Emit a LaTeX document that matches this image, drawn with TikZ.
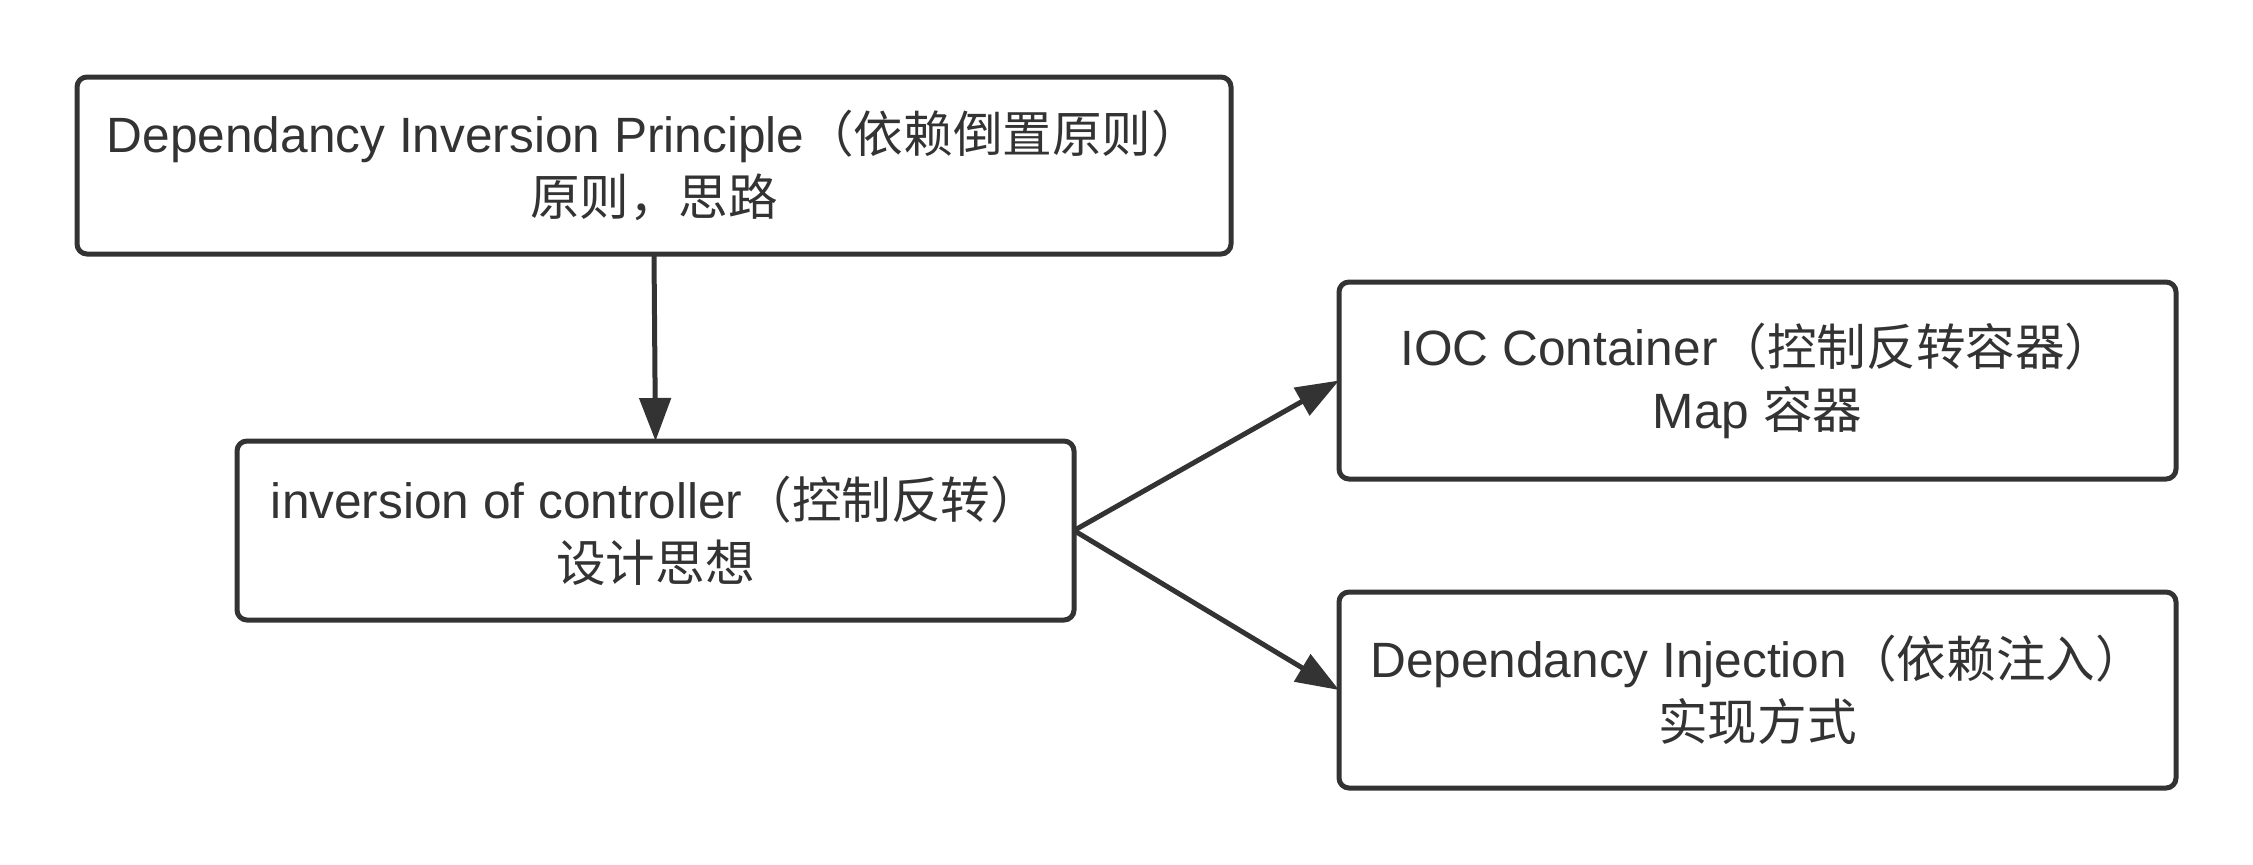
\documentclass[tikz,border=0pt]{standalone}
\usepackage{fontspec}
\setmainfont{Liberation Sans}
\newfontfamily\cjk{Noto Sans CJK SC}
\usetikzlibrary{arrows.meta}
\definecolor{ink}{HTML}{333333}
\begin{document}
\begin{tikzpicture}[x=0.5pt,y=-0.5pt,
  box/.style={draw=ink, line width=2.5pt, rounded corners=5pt, fill=white,
    inner sep=0pt, outer sep=0pt, align=center, text=ink,
    font=\fontsize{24.8pt}{31.5pt}\selectfont},
  conn/.style={draw=ink, line width=2.5pt, -{Triangle[length=21.5pt,width=15.5pt]}}]
\useasboundingbox (0,0) rectangle (2253,864);
\fill[white] (0,0) rectangle (2253,864);
\node[box, minimum width=577pt, minimum height=88.5pt] (dip) at (654,165.5)
  {Dependancy Inversion Principle{\cjk（依赖倒置原则）}\\{\cjk 原则，思路}};
\node[box, minimum width=418.5pt, minimum height=89.5pt] (ioc) at (655.5,530.5)
  {inversion of controller{\cjk（控制反转）}\\{\cjk 设计思想}};
\node[box, minimum width=418.5pt, minimum height=98.5pt] (cont) at (1757.5,380.5)
  {IOC Container{\cjk（控制反转容器）}\\Map {\cjk 容器}};
\node[box, minimum width=418.5pt, minimum height=98pt] (di) at (1757.5,690)
  {Dependancy Injection{\cjk（依赖注入）}\\{\cjk 实现方式}};
\draw[conn] (dip.south) -- (ioc.north);
\draw[conn] (ioc.east) -- (cont.west);
\draw[conn] (ioc.east) -- (di.west);
\end{tikzpicture}
\end{document}
